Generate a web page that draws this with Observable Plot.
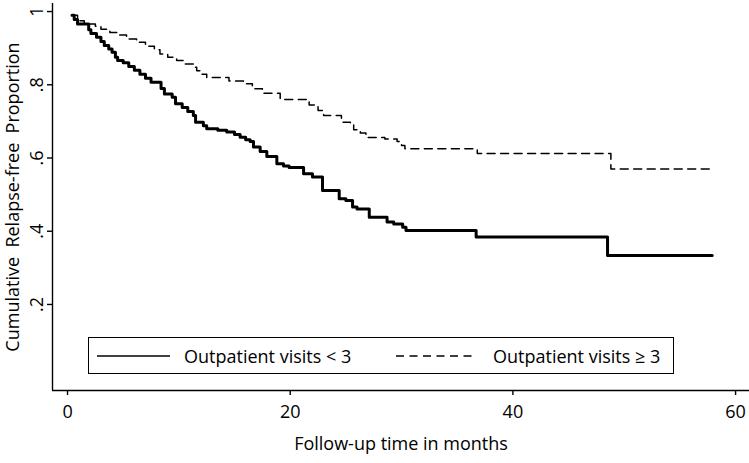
<!DOCTYPE html>
<html>
<head>
<meta charset="utf-8">
<script src="https://cdn.jsdelivr.net/npm/d3@7"></script>
<script src="https://cdn.jsdelivr.net/npm/@observablehq/plot@0.6"></script>
<style>
  html, body { margin: 0; padding: 0; background: #fff; }
  #wrap { position: relative; width: 749px; height: 463px; font-family: "Open Sans", sans-serif; }
  #legend { position: absolute; left: 88px; top: 337px; width: 584px; height: 35px;
            border: 1.4px solid #000; box-sizing: content-box; font-size: 18px; color: #000; }
  #legend .item { position: absolute; top: 0; height: 35px; display: flex; align-items: center; white-space: nowrap; }
  #legend svg { display: block; }
</style>
</head>
<body>
<div id="wrap"></div>
<script>
// Group: outpatient visits < 3 (solid) — Kaplan–Meier step points (time in months, survival)
const timesLow = [0.4, 0.6, 0.9, 1.9, 2.1, 2.6, 3.0, 3.3, 3.7, 4.0, 4.3, 4.5, 5.0, 5.5, 6.0, 6.5, 7.0, 7.5, 8.4, 8.7, 9.4, 9.7, 10.3, 10.8, 11.3, 11.5, 12.2, 12.5, 13.5, 14.3, 15.0, 15.5, 16.0, 16.4, 16.7, 17.3, 17.9, 18.8, 19.4, 19.9, 21.2, 22.0, 22.9, 24.4, 25.0, 25.6, 26.0, 27.1, 28.7, 29.3, 30.1, 30.4, 36.7, 48.5, 57.9];
const survLow  = [0.990, 0.978, 0.966, 0.950, 0.940, 0.930, 0.918, 0.907, 0.898, 0.889, 0.875, 0.866, 0.860, 0.850, 0.840, 0.829, 0.818, 0.807, 0.790, 0.775, 0.766, 0.748, 0.738, 0.727, 0.716, 0.698, 0.688, 0.680, 0.676, 0.671, 0.664, 0.657, 0.650, 0.645, 0.630, 0.618, 0.604, 0.584, 0.578, 0.574, 0.557, 0.548, 0.511, 0.489, 0.484, 0.466, 0.461, 0.438, 0.425, 0.420, 0.411, 0.402, 0.384, 0.334, 0.334];

// Group: outpatient visits >= 3 (dashed)
const timesHigh = [0.4, 0.9, 1.5, 2.5, 3.0, 3.8, 4.5, 5.3, 6.2, 7.0, 7.8, 8.3, 9.0, 9.8, 10.5, 11.3, 11.6, 12.0, 12.5, 14.5, 15.8, 16.6, 17.5, 19.1, 21.7, 22.5, 23.0, 24.6, 25.4, 25.7, 26.3, 26.8, 28.5, 29.6, 30.0, 30.3, 36.8, 48.8, 57.9];
const survHigh  = [0.990, 0.975, 0.966, 0.960, 0.952, 0.943, 0.936, 0.925, 0.916, 0.905, 0.896, 0.884, 0.875, 0.866, 0.857, 0.848, 0.838, 0.829, 0.820, 0.810, 0.803, 0.789, 0.777, 0.760, 0.745, 0.730, 0.716, 0.698, 0.693, 0.677, 0.668, 0.656, 0.652, 0.645, 0.634, 0.625, 0.612, 0.570, 0.570];

const seriesNames = ["Outpatient visits < 3", "Outpatient visits \u2265 3"];
const xTicks = [0, 20, 40, 60];
const yTicks = [0.2, 0.4, 0.6, 0.8, 1];
const yTickLabels = [".2", ".4", ".6", ".8", "1"];
const xTitle = "Follow-up time in months";
const yTitle = "Cumulative\u00a0 Relapse-free\u00a0 Proportion";
const xDomain = [-1.35, 61.25];
const yDomain = [-0.035, 1.022];

const lowRows = timesLow.map((t, i) => ({t, s: survLow[i]}));
const highRows = timesHigh.map((t, i) => ({t, s: survHigh[i]}));

const chart = Plot.plot({
  width: 749,
  height: 463,
  marginLeft: 52,
  marginRight: 0,
  marginTop: 3,
  marginBottom: 73,
  style: { fontFamily: "Open Sans, sans-serif", fontSize: "18px", color: "#000", background: "#fff" },
  x: { domain: xDomain },
  y: { domain: yDomain },
  marks: [
    Plot.ruleY([yDomain[0]], { stroke: "#000", strokeWidth: 1.4 }),
    Plot.ruleX([xDomain[0]], { stroke: "#000", strokeWidth: 1.4 }),
    Plot.axisX({ ticks: xTicks, tickSize: 5, tickPadding: 10, tickFormat: d => String(d),
                 label: xTitle, labelAnchor: "center", labelOffset: 59, labelArrow: "none", fontSize: 18, strokeWidth: 1.4 }),
    Plot.axisY({ ticks: yTicks, tickSize: 5, tickPadding: 5, tickFormat: (d, i) => yTickLabels[yTicks.indexOf(d)],
                 tickRotate: -90, label: yTitle, labelAnchor: "center", labelOffset: 46, labelArrow: "none", fontSize: 18, strokeWidth: 1.4 }),
    Plot.line(lowRows, { x: "t", y: "s", curve: "step-after", stroke: "#000", strokeWidth: 3 }),
    Plot.line(highRows, { x: "t", y: "s", curve: "step-after", stroke: "#000", strokeWidth: 1.5, strokeDasharray: "8,5.5" })
  ]
});

const wrap = document.getElementById("wrap");
wrap.appendChild(chart);

// Legend (HTML overlay inside the plot region)
const legend = document.createElement("div");
legend.id = "legend";
legend.innerHTML = `
  <div class="item" style="left:8px"><svg width="73" height="4"><line x1="0" y1="2" x2="73" y2="2" stroke="#000" stroke-width="1.5"/></svg>
    <span style="margin-left:14px">${seriesNames[0]}</span></div>
  <div class="item" style="left:307px"><svg width="76" height="4"><line x1="0" y1="2" x2="76" y2="2" stroke="#000" stroke-width="1.4" stroke-dasharray="8,5.5"/></svg>
    <span style="margin-left:21px">${seriesNames[1]}</span></div>`;
wrap.appendChild(legend);
</script>
</body>
</html>
